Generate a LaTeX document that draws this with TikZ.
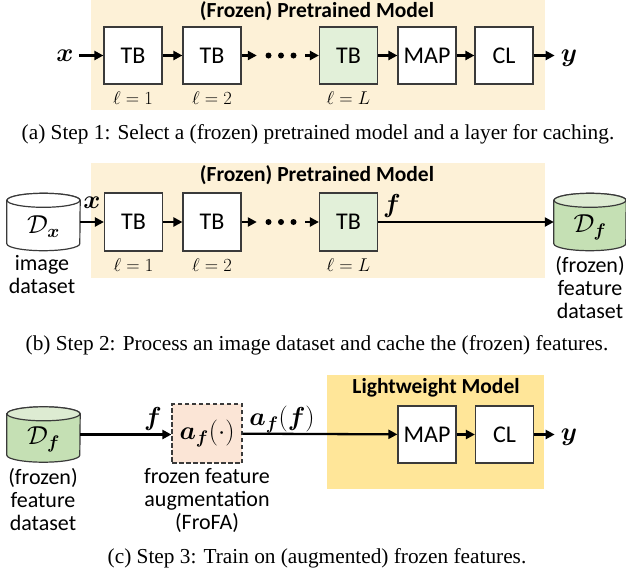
\RequirePackage{fix-cm}
\documentclass[tikz,border=0pt]{standalone}
\usepackage{amsmath,bm}
\usepackage[no-math]{fontspec}
\setmainfont{Liberation Serif}
\newfontfamily\calib{Carlito}
\usetikzlibrary{arrows.meta}
\definecolor{bgl}{HTML}{FDF1D7}
\definecolor{bgy}{HTML}{FFE699}
\definecolor{gl}{HTML}{E2F0D9}
\definecolor{gd}{HTML}{C5E0B4}
\definecolor{gt}{HTML}{DDEBD2}
\definecolor{pe}{HTML}{FBE5D6}
\definecolor{boxc}{HTML}{3A3A3A}
\newcommand{\cylshape}[4]{%
  \filldraw[fill=#2, draw=boxc, line width=1.2pt] ([yshift=-7pt]#1.north west) -- ([yshift=7pt]#1.south west)
    arc[start angle=180, end angle=360, x radius=#4, y radius=7pt] -- ([yshift=-7pt]#1.north east)
    arc[start angle=0, end angle=180, x radius=#4, y radius=7pt] -- cycle;
  \filldraw[fill=#3, draw=boxc, line width=1.2pt] ([yshift=-7pt]#1.north) ellipse[x radius=#4, y radius=7pt];
}
\tikzset{
  box/.style={draw=boxc, line width=1.2pt, minimum width=58pt, minimum height=57pt, inner sep=0, fill=white,
    font=\calib\fontsize{24}{28}\selectfont},
  arr/.style={-{Triangle[length=9pt,width=9pt]}, line width=2.3pt},
  lbl/.style={font=\fontsize{18.5}{22}\selectfont, anchor=base, inner sep=0},
  mth/.style={font=\fontsize{26}{30}\selectfont, inner sep=0},
  txt/.style={font=\calib\fontsize{22}{23}\selectfont, align=center, inner sep=0},
  ttl/.style={font=\calib\bfseries\fontsize{21.5}{24}\selectfont, anchor=base, inner sep=0},
  captxt/.style={font=\fontsize{21.3}{24}\selectfont, anchor=base, inner sep=0},
  cylnode/.style={minimum width=73pt, minimum height=57pt, inner sep=0},
  dotsnode/.style={minimum width=48pt, minimum height=8pt, inner sep=0},
}
\begin{document}
\begin{tikzpicture}[x=1pt,y=-1pt]
\useasboundingbox (0,0) rectangle (626,573);
% ---------- panel (a)
\fill[bgl] (91,0) rectangle (545,110);
\node[ttl] (ta) at (317,17) {(Frozen) Pretrained Model};
\node[box] (a1) at (133,55.5) {TB};
\node[box] (a2) at (212,55.5) {TB};
\node[box,fill=gl] (a3) at (348.5,55.5) {TB};
\node[box] (a4) at (427,55.5) {MAP};
\node[box] (a5) at (504,55.5) {CL};
\node[mth] (ax) at (65,55.5) {$\bm{x}$};
\node[mth] (ay) at (569,58.5) {$\bm{y}$};
\node[dotsnode] (ad) at (281,55.5) {};
\foreach \d in {-12.5,0,12.5} \fill ([xshift=\d pt]ad.center) circle[radius=3pt];
\draw[arr, shorten <=5pt] (ax) -- (a1);
\draw[arr] (a1) -- (a2);
\draw[arr] (a2) -- (ad.west);
\draw[arr] (ad.east) -- (a3);
\draw[arr] (a3) -- (a4);
\draw[arr] (a4) -- (a5);
\draw[arr, shorten >=6pt] (a5) -- (a5 -| ay.west);
\node[lbl] (la1) at (133,104) {$\ell=1$};
\node[lbl] (la2) at (212,104) {$\ell=2$};
\node[lbl] (la3) at (348.5,104) {$\ell=L$};
\node[captxt] (capa) at (318,139) {(a) Step 1: Select a (frozen) pretrained model and a layer for caching.};
% ---------- panel (b)
\fill[bgl] (91,163) rectangle (545,278);
\node[ttl] (tb) at (317,181) {(Frozen) Pretrained Model};
\node[box, minimum height=58pt] (b1) at (133.5,222) {TB};
\node[box, minimum height=58pt] (b2) at (212,222) {TB};
\node[box, minimum height=58pt, fill=gl] (b3) at (348.5,222) {TB};
\node[dotsnode] (bd) at (281,222) {};
\foreach \d in {-12.5,0,12.5} \fill ([xshift=\d pt]bd.center) circle[radius=3pt];
\node[cylnode] (dx) at (43.5,222) {};
\cylshape{dx}{white}{white}{36.5pt}
\node[mth] (dxl) at ([yshift=-5pt]dx.center) {$\mathcal{D}_{\bm{x}}$};
\node[cylnode, minimum width=72pt] (df) at (590,222) {};
\cylshape{df}{gd}{gt}{36pt}
\node[mth] (dfl) at ([yshift=-5pt]df.center) {$\mathcal{D}_{\bm{f}}$};
\draw[arr] (dx) -- (b1);
\draw[arr] (b1) -- (b2);
\draw[arr] (b2) -- (bd.west);
\draw[arr] (bd.east) -- (b3);
\draw[arr] (b3) -- (df);
\node[mth] (bx) at (92,203) {$\bm{x}$};
\node[mth] (bf) at (392,206) {$\bm{f}$};
\node[lbl] (lb1) at (133.5,271) {$\ell=1$};
\node[lbl] (lb2) at (212,271) {$\ell=2$};
\node[lbl] (lb3) at (348.5,271) {$\ell=L$};
\node[txt] (bimg) at (42,275) {image\\dataset};
\node[txt] (bfeat) at (590,287.5) {(frozen)\\feature\\dataset};
\node[captxt] (capb) at (317,350) {(b) Step 2: Process an image dataset and cache the (frozen) features.};
% ---------- panel (c)
\fill[bgy] (327,375) rectangle (544,489);
\node[ttl] (tc) at (436,393) {Lightweight Model};
\node[cylnode, minimum height=55pt] (cf) at (43.5,434.5) {};
\cylshape{cf}{gd}{gt}{36.5pt}
\node[mth] (cfl) at ([yshift=-5pt]cf.center) {$\mathcal{D}_{\bm{f}}$};
\node[box, draw=boxc, dash pattern=on 4.5pt off 2.5pt, fill=pe, minimum width=70pt, minimum height=59pt,
  font=\fontsize{26}{30}\selectfont] (aug) at (207,433.5) {$\bm{a}_{\bm{f}}(\cdot)$};
\node[box] (cm) at (427,434.5) {MAP};
\node[box] (cc) at (504.5,434.5) {CL};
\node[mth] (cy) at (569,437.5) {$\bm{y}$};
\draw[arr] (cf) -- (aug.west |- cf);
\draw[arr] (aug) -- (cm);
\draw[arr] (cm) -- (cc);
\draw[arr, shorten >=6pt] (cc) -- (cc -| cy.west);
\node[mth] (cfx) at (153,419) {$\bm{f}$};
\node[mth] (caf) at (282,419.5) {$\bm{a}_{\bm{f}}(\bm{f})$};
\node[txt] (cft) at (43,500) {(frozen)\\feature\\dataset};
\node[txt] (caugt) at (207,500.5) {frozen feature\\augmentation\\(FroFA)};
\node[captxt] (capc) at (317,563) {(c) Step 3: Train on (augmented) frozen features.};
\end{tikzpicture}
\end{document}
